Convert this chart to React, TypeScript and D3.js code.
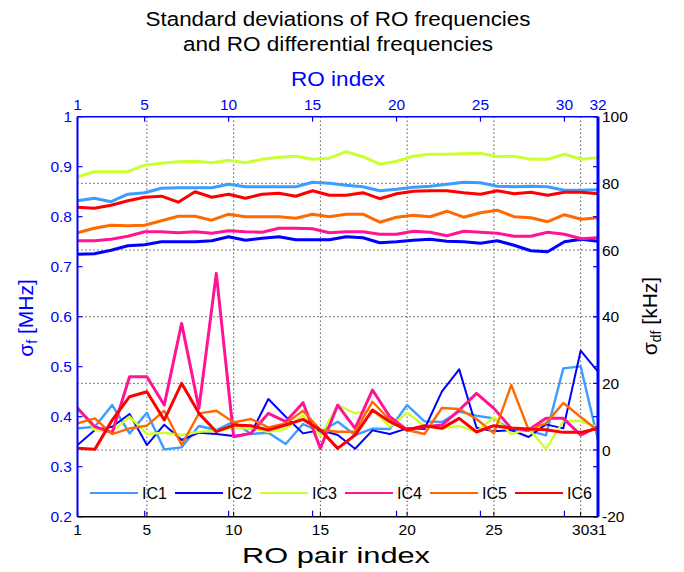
import React from 'react';
import * as d3 from 'd3';

// Series labels and colours
const seriesNames = ['IC1', 'IC2', 'IC3', 'IC4', 'IC5', 'IC6'];
const seriesColors = ['#3d9dff', '#0000ff', '#ccff33', '#ff1493', '#ff6a00', '#ff0000'];

// Standard deviation of RO frequency [MHz], per RO index 1..32
const sigmaF_IC1 = [0.832, 0.837, 0.83, 0.845, 0.848, 0.857, 0.858, 0.858, 0.858, 0.865, 0.86, 0.86, 0.86, 0.86, 0.869, 0.867, 0.863, 0.86, 0.852, 0.855, 0.859, 0.861, 0.865, 0.869, 0.868, 0.861, 0.86, 0.861, 0.86, 0.853, 0.853, 0.854];
const sigmaF_IC2 = [0.725, 0.726, 0.733, 0.742, 0.744, 0.75, 0.75, 0.75, 0.752, 0.76, 0.753, 0.757, 0.76, 0.754, 0.754, 0.754, 0.76, 0.758, 0.748, 0.75, 0.753, 0.755, 0.751, 0.75, 0.747, 0.752, 0.743, 0.732, 0.73, 0.75, 0.755, 0.751];
const sigmaF_IC3 = [0.88, 0.89, 0.89, 0.89, 0.903, 0.907, 0.91, 0.911, 0.908, 0.913, 0.908, 0.915, 0.919, 0.921, 0.915, 0.917, 0.93, 0.92, 0.905, 0.911, 0.921, 0.925, 0.925, 0.926, 0.927, 0.92, 0.921, 0.915, 0.915, 0.925, 0.915, 0.918];
const sigmaF_IC4 = [0.752, 0.752, 0.755, 0.761, 0.77, 0.77, 0.768, 0.77, 0.767, 0.772, 0.77, 0.769, 0.777, 0.777, 0.776, 0.768, 0.77, 0.77, 0.765, 0.765, 0.771, 0.769, 0.762, 0.771, 0.769, 0.767, 0.761, 0.761, 0.769, 0.765, 0.756, 0.758];
const sigmaF_IC5 = [0.768, 0.777, 0.783, 0.782, 0.783, 0.792, 0.801, 0.801, 0.793, 0.805, 0.8, 0.8, 0.8, 0.797, 0.805, 0.8, 0.805, 0.805, 0.789, 0.799, 0.803, 0.8, 0.811, 0.799, 0.808, 0.813, 0.8, 0.798, 0.79, 0.804, 0.795, 0.798];
const sigmaF_IC6 = [0.819, 0.817, 0.823, 0.832, 0.839, 0.841, 0.829, 0.85, 0.839, 0.845, 0.837, 0.845, 0.847, 0.841, 0.852, 0.843, 0.843, 0.848, 0.836, 0.846, 0.851, 0.852, 0.852, 0.848, 0.845, 0.852, 0.846, 0.849, 0.843, 0.849, 0.849, 0.846];

// Standard deviation of RO differential frequency [kHz], per RO pair index 1..31
const sigmaDf_IC1 = [6.5, 7, 13.5, 5, 11.2, 0.2, 0.8, 7.2, 6, 8.5, 4.8, 5.2, 1.8, 7.8, 5.5, 8.5, 4.5, 6.4, 6.3, 13.5, 8.6, 8.4, 11.5, 10.3, 9.5, 5.9, 5.8, 4.4, 24.5, 25.1, 3];
const sigmaDf_IC2 = [1.5, 6, 7, 10.8, 1.5, 7.6, 3, 5.2, 4.8, 4.2, 5, 15.3, 10, 5, 6, 4.5, 0.4, 5.9, 4.8, 6.5, 6.3, 17.5, 24.2, 6.7, 5.6, 6, 3.9, 7.7, 6.5, 29.8, 23.5];
const sigmaDf_IC3 = [13, 6, 5.5, 10, 4.8, 5.2, 4.5, 5.5, 5.8, 6.5, 6.5, 5.5, 6.3, 10.5, 4.2, 13.5, 11, 12, 7, 11.2, 7.2, 6.5, 7.2, 5.5, 9.9, 4.8, 6.5, 0.3, 8.7, 8.7, 6.8];
const sigmaDf_IC4 = [12.5, 7, 5.2, 22, 22, 13.5, 38, 12.5, 53, 4, 5, 11, 8.5, 14.2, 0.5, 13.5, 6.5, 18, 10, 6, 7, 7.5, 12, 17, 12.5, 6.5, 6, 9.5, 9.5, 4.5, 7];
const sigmaDf_IC5 = [8, 9.5, 4.8, 6.5, 7.3, 11.8, 1.5, 11, 11.8, 8.3, 9.3, 6.8, 8, 11.8, 6, 5.5, 5.5, 14.5, 9, 6, 4.8, 12.6, 12.3, 9.3, 5, 19.5, 6.1, 8, 14.1, 9.9, 5.8];
const sigmaDf_IC6 = [0.5, 0.2, 9, 16, 17.5, 9, 20, 11, 5.5, 7.5, 7.3, 6, 7.5, 9.2, 6, 0.5, 4.5, 12, 8.5, 6, 7.3, 6.5, 9.5, 5.4, 7.3, 6.6, 6.3, 6.1, 5.3, 5.3, 6.5];

// Axis ticks
const roIndexTicks = [1, 5, 10, 15, 20, 25, 30, 32];
const pairIndexTicks = [1, 5, 10, 15, 20, 25, 30, 31];
const pairGridTicks = [5, 10, 15, 20, 25, 30];
const mhzTicks = [0.2, 0.3, 0.4, 0.5, 0.6, 0.7, 0.8, 0.9, 1];
const khzTicks = [-20, 0, 20, 40, 60, 80, 100];
const khzGridTicks = [0, 20, 40, 60, 80];

const sigmaF = [sigmaF_IC1, sigmaF_IC2, sigmaF_IC3, sigmaF_IC4, sigmaF_IC5, sigmaF_IC6];
const sigmaDf = [sigmaDf_IC1, sigmaDf_IC2, sigmaDf_IC3, sigmaDf_IC4, sigmaDf_IC5, sigmaDf_IC6];
const dfWidths = [2.4, 2, 2.4, 3, 2.4, 3];

const FONT = "'Liberation Sans', Arial, Helvetica, sans-serif";

export default function App() {
  const W = 684;
  const H = 572;
  const left = 77.5;
  const right = 598;
  const top = 116.7;
  const bottom = 516.7;

  const xRo = d3.scaleLinear().domain([1, 32]).range([left, right]);
  const xPair = d3.scaleLinear().domain([1, 31]).range([left, right]);
  const yF = d3.scaleLinear().domain([0.2, 1]).range([bottom, top]);
  const yDf = d3.scaleLinear().domain([-20, 100]).range([bottom, top]);

  const lineF = d3.line<number>().x((_, i) => xRo(i + 1)).y((d) => yF(d));
  const lineDf = d3.line<number>().x((_, i) => xPair(i + 1)).y((d) => yDf(d));

  const blue = '#0000ff';
  const fmtMhz = (v: number) => String(+v.toFixed(1));

  return (
    <svg width={W} height={H} style={{ position: 'absolute', left: 0, top: 0, background: '#fff' }} fontFamily={FONT}>
      <rect x={0} y={0} width={W} height={H} fill="#fff" />
      <defs>
        <clipPath id="plotClip">
          <rect x={left} y={top} width={right - left} height={bottom - top} />
        </clipPath>
      </defs>

      {/* Title */}
      <text x={338} y={26} textAnchor="middle" fontSize={20} fill="#000" textLength={385} lengthAdjust="spacingAndGlyphs">Standard deviations of RO frequencies</text>
      <text x={338} y={51} textAnchor="middle" fontSize={20} fill="#000" textLength={310} lengthAdjust="spacingAndGlyphs">and RO differential frequencies</text>

      {/* Dotted grid */}
      <g stroke="#000" strokeWidth={1} strokeDasharray="1,3">
        {pairGridTicks.map((t) => (
          <line key={'gx' + t} x1={xPair(t)} x2={xPair(t)} y1={top} y2={bottom} />
        ))}
        {khzGridTicks.map((t) => (
          <line key={'gy' + t} x1={left} x2={right} y1={yDf(t)} y2={yDf(t)} />
        ))}
      </g>

      {/* Series */}
      <g clipPath="url(#plotClip)" fill="none" strokeLinejoin="round" strokeLinecap="round">
        {sigmaF.map((s, k) => (
          <path key={'f' + k} d={lineF(s) || ''} stroke={seriesColors[k]} strokeWidth={3} />
        ))}
        {sigmaDf.map((s, k) => (
          <path key={'df' + k} d={lineDf(s) || ''} stroke={seriesColors[k]} strokeWidth={dfWidths[k]} />
        ))}
      </g>

      {/* Legend */}
      <g>
        {seriesNames.map((n, k) => {
          const lx = 90 + k * 85;
          const ly = 493;
          return (
            <g key={n}>
              <line x1={lx} x2={lx + 48} y1={ly} y2={ly} stroke={seriesColors[k]} strokeWidth={2} />
              <text x={lx + 52} y={ly + 5.5} fontSize={16} fill="#000" textLength={25} lengthAdjust="spacingAndGlyphs">{n}</text>
            </g>
          );
        })}
      </g>

      {/* Ticks */}
      <g stroke={blue} strokeWidth={1.2}>
        {mhzTicks.map((t) => (
          <g key={'tm' + t}>
            <line x1={left} x2={left + 5} y1={yF(t)} y2={yF(t)} />
            <line x1={right - 5} x2={right} y1={yF(t)} y2={yF(t)} />
          </g>
        ))}
        {khzTicks.map((t) => (
          <line key={'tk' + t} x1={right - 5} x2={right} y1={yDf(t)} y2={yDf(t)} />
        ))}
        {roIndexTicks.map((t) => (
          <g key={'tr' + t}>
            <line x1={xRo(t)} x2={xRo(t)} y1={top} y2={top + 5} />
            <line x1={xRo(t)} x2={xRo(t)} y1={bottom - 6} y2={bottom} />
          </g>
        ))}
      </g>
      <g stroke="#000" strokeWidth={1}>
        {pairIndexTicks.map((t) => (
          <line key={'tp' + t} x1={xPair(t)} x2={xPair(t)} y1={bottom - 5} y2={bottom} />
        ))}
      </g>

      {/* Axis lines */}
      <line x1={left} x2={right} y1={top} y2={top} stroke={blue} strokeWidth={1.5} />
      <line x1={left} x2={right} y1={bottom} y2={bottom} stroke="#000" strokeWidth={1.5} />
      <line x1={left} x2={left} y1={top} y2={bottom} stroke={blue} strokeWidth={2} />
      <line x1={right} x2={right} y1={top} y2={bottom} stroke={blue} strokeWidth={3} />

      {/* Tick labels */}
      <g fontSize={15.5}>
        {roIndexTicks.map((t) => (
          <text key={'lr' + t} x={xRo(t)} y={110} textAnchor="middle" fill={blue}>{t}</text>
        ))}
        {pairIndexTicks.map((t) => (
          <text key={'lp' + t} x={xPair(t)} y={535} textAnchor="middle" fill="#000">{t}</text>
        ))}
        {mhzTicks.map((t) => (
          <text key={'lm' + t} x={72} y={yF(t) + 5.5} textAnchor="end" fill={blue}>{fmtMhz(t)}</text>
        ))}
        {khzTicks.map((t) => (
          <text key={'lk' + t} x={602} y={yDf(t) + 5.5} textAnchor="start" fill="#000">{t}</text>
        ))}
      </g>

      {/* Axis titles */}
      <text x={338} y={86} textAnchor="middle" fontSize={20} fill={blue} textLength={94} lengthAdjust="spacingAndGlyphs">RO index</text>
      <text x={336} y={563} textAnchor="middle" fontSize={22} fill="#000" textLength={188} lengthAdjust="spacingAndGlyphs">RO pair index</text>
      <text transform="translate(33,318) rotate(-90)" textAnchor="middle" fontSize={21} fill={blue}>
        σ<tspan fontSize={14} dy={4}>f</tspan><tspan dy={-4}> [MHz]</tspan>
      </text>
      <text transform="translate(657,316) rotate(-90)" textAnchor="middle" fontSize={21} fill="#000">
        σ<tspan fontSize={14} dy={4}>df</tspan><tspan dy={-4}> [kHz]</tspan>
      </text>
    </svg>
  );
}
